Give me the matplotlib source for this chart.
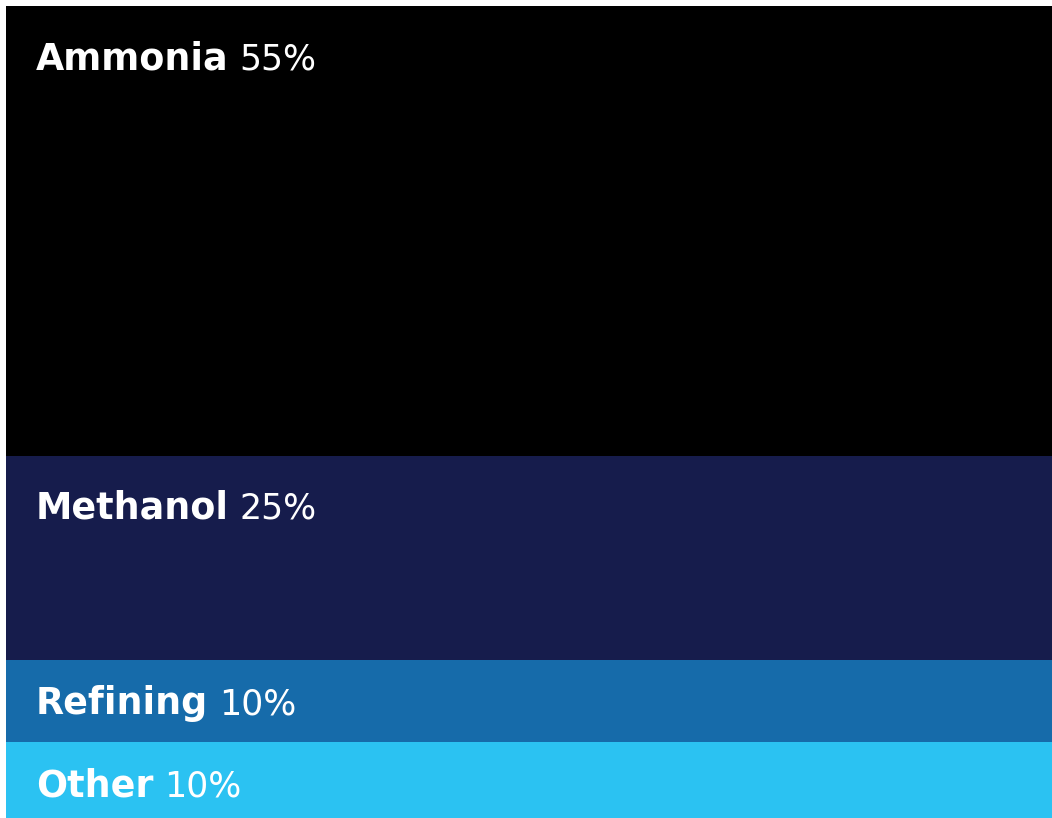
import matplotlib
matplotlib.use("Agg")
import matplotlib.pyplot as plt

# share of hydrogen demand by end use
categories = ["Ammonia", "Methanol", "Refining", "Other"]
shares = [55, 25, 10, 10]
value_labels = ["55%", "25%", "10%", "10%"]
band_colors = ["#000000", "#161C4C", "#166BAA", "#2BC2F2"]

W, H = 1052, 818
fig = plt.figure(figsize=(W / 100, H / 100), dpi=100)
fig.patch.set_facecolor("white")

# axes: 6 px white margin on top/left, last band runs past the bottom edge
ax = fig.add_axes([6 / W, -6 / H, (W - 6) / W, 818 / H])
ax.set_xlim(0, 1)
ax.set_ylim(100, 0)
ax.axis("off")

px_per_unit = 818 / 100
fontsize = 26.3
cap_px = 26

tops = []
start = 0
for name, val, col in zip(categories, shares, band_colors):
    ax.barh(start + val / 2, 1, height=val, left=0, color=col, linewidth=0)
    tops.append(start)
    start += val

labels = []
for name, val, top in zip(categories, shares, tops):
    h_px = val * px_per_unit
    off = min(63, h_px / 2 + cap_px / 2)
    t = ax.annotate(name, xy=(0, top), xytext=(30, -off),
                    textcoords="offset pixels", ha="left", va="baseline",
                    color="white", fontsize=fontsize, fontweight="bold",
                    family="DejaVu Sans")
    labels.append((t, top, off))

fig.canvas.draw()
renderer = fig.canvas.get_renderer()
for (t, top, off), vlab in zip(labels, value_labels):
    bb = t.get_window_extent(renderer)
    x0 = ax.transData.transform((0, top))[0]
    ax.annotate(vlab, xy=(0, top), xytext=(bb.x1 - x0 + 11, -off),
                textcoords="offset pixels", ha="left", va="baseline",
                color="white", fontsize=fontsize * 0.95, fontweight="normal",
                family="DejaVu Sans")

fig.savefig("out.png", dpi=100)
